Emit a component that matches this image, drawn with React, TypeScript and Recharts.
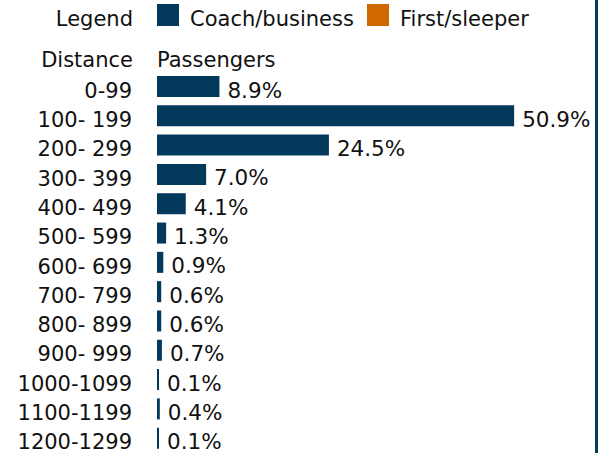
import React from 'react';
import { BarChart, Bar, XAxis, YAxis, LabelList } from 'recharts';

const distances = [
  '0-99', '100- 199', '200- 299', '300- 399', '400- 499', '500- 599', '600- 699',
  '700- 799', '800- 899', '900- 999', '1000-1099', '1100-1199', '1200-1299',
];
const passengerShare = [8.9, 50.9, 24.5, 7.0, 4.1, 1.3, 0.9, 0.6, 0.6, 0.7, 0.1, 0.4, 0.1];
const legendLabels = ['Coach/business', 'First/sleeper'];

const NAVY = '#033a5c';
const ORANGE = '#d06800';
const INK = '#111111';
const FONT = '"DejaVu Sans", Verdana, sans-serif';

const chartData = distances.map((d, i) => ({ distance: d, share: passengerShare[i] }));

const DistanceTick = (props: any) => {
  const { x, y, payload } = props;
  return (
    <text x={x} y={y + 11} textAnchor="end" fill={INK} fontSize={21} fontFamily={FONT}>
      {payload.value}
    </text>
  );
};

const ShareLabel = (props: any) => {
  const { x, y, width, height, value } = props;
  return (
    <text x={x + width + 8} y={y + height / 2 + 11} fill={INK} fontSize={21.5} fontFamily={FONT}>
      {Number(value).toFixed(1)}%
    </text>
  );
};

export default function App() {
  const legendColors = [NAVY, ORANGE];
  const legendX = [157, 367];
  return (
    <div style={{ position: 'absolute', left: 0, top: 0, width: 610, height: 453, background: '#fff', fontFamily: FONT }}>
      <BarChart
        width={610}
        height={453}
        data={chartData}
        layout="vertical"
        margin={{ top: 72, right: 32, bottom: 0, left: 0 }}
        barSize={21}
      >
        <XAxis type="number" domain={[0, 60]} hide />
        <YAxis
          type="category"
          dataKey="distance"
          width={157}
          axisLine={false}
          tickLine={false}
          tickSize={0}
          tickMargin={25}
          interval={0}
          tick={<DistanceTick />}
        />
        <Bar dataKey="share" fill={NAVY} minPointSize={2} isAnimationActive={false}>
          <LabelList dataKey="share" content={<ShareLabel />} />
        </Bar>
      </BarChart>

      {/* header: legend row and column titles */}
      <svg width={610} height={72} style={{ position: 'absolute', left: 0, top: 0 }}>
        <text x={133} y={26} textAnchor="end" fill={INK} fontSize={21} fontFamily={FONT}>Legend</text>
        {legendLabels.map((label, i) => (
          <g key={label}>
            <rect x={legendX[i]} y={4} width={22} height={22} fill={legendColors[i]} />
            <text x={legendX[i] + 33} y={26} fill={INK} fontSize={21} fontFamily={FONT}>{label}</text>
          </g>
        ))}
        <text x={133} y={67} textAnchor="end" fill={INK} fontSize={21} fontFamily={FONT}>Distance</text>
        <text x={157} y={67} fill={INK} fontSize={21} fontFamily={FONT}>Passengers</text>
      </svg>

      <div style={{ position: 'absolute', left: 595, top: 0, width: 3, height: 453, background: NAVY }} />
    </div>
  );
}
